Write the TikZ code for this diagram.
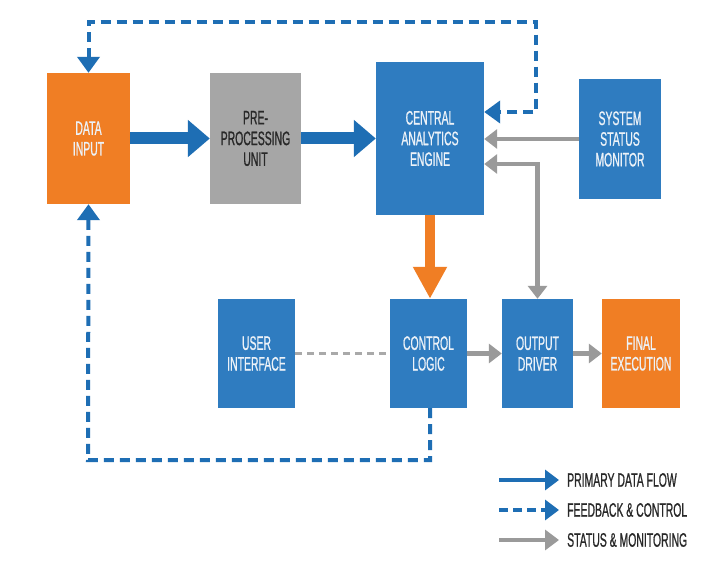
\documentclass[tikz,border=0pt]{standalone}
\usepackage{fontspec}
\setmainfont{Liberation Sans}[FakeStretch=0.535, FakeBold=0.8]
\usetikzlibrary{arrows.meta}
\definecolor{boxblue}{RGB}{47,124,192}
\definecolor{boxorange}{RGB}{240,126,36}
\definecolor{boxgray}{RGB}{166,166,166}
\definecolor{arrblue}{RGB}{30,110,180}
\definecolor{arrgray}{RGB}{154,154,154}
\definecolor{txtlight}{RGB}{236,242,248}
\definecolor{txtdark}{RGB}{40,40,40}
\tikzset{
  box/.style={rectangle, inner sep=0pt, align=center,
    font=\fontsize{19.5}{20.7}\selectfont},
  bluebox/.style={box, fill=boxblue, text=txtlight},
  orangebox/.style={box, fill=boxorange, text=txtlight},
  graybox/.style={box, fill=boxgray, text=txtdark},
  primary/.style={draw=arrblue, line width=12pt,
    -{Triangle[length=22pt,width=36pt]}, arrblue},
  fb/.style={draw=arrblue, line width=4pt, dash pattern=on 10pt off 6pt,
    arrows={Triangle[length=16pt,width=22pt]-Triangle[length=16pt,width=22pt]}, arrblue},
  fbone/.style={fb, arrows={-Triangle[length=16pt,width=22pt]}},
  stat/.style={draw=arrgray, line width=4.5pt,
    -{Triangle[length=13pt,width=19pt]}, arrgray},
  statboth/.style={stat, {Triangle[length=13pt,width=19pt]}-{Triangle[length=13pt,width=19pt]}},
  ctrl/.style={draw=boxorange, line width=10pt,
    -{Triangle[length=32pt,width=32pt]}, boxorange},
  uidash/.style={draw=arrgray!85, line width=2.5pt, dash pattern=on 7pt off 5pt},
  legtext/.style={anchor=west, inner sep=0pt, text=txtdark,
    font=\fontsize{19.5}{20}\selectfont},
}
\begin{document}
\begin{tikzpicture}[x=1pt,y=-1pt]
\useasboundingbox[fill=white] (0,0) rectangle (709,569);

% boxes
\node[orangebox, minimum width=83pt, minimum height=131pt] (DI) at (88.5,138.5) {DATA\\INPUT};
\node[graybox, minimum width=91pt, minimum height=131pt] (PP) at (255.5,138.5) {PRE-\\PROCESSING\\UNIT};
\node[bluebox, minimum width=108pt, minimum height=153pt] (CAE) at (430,138.5) {CENTRAL\\ANALYTICS\\ENGINE};
\node[bluebox, minimum width=82pt, minimum height=120pt] (SSM) at (620,139) {SYSTEM\\STATUS\\MONITOR};
\node[bluebox, minimum width=77pt, minimum height=109pt] (UI) at (256.5,353.5) {USER\\INTERFACE};
\node[bluebox, minimum width=77pt, minimum height=109pt] (CL) at (428.5,353.5) {CONTROL\\LOGIC};
\node[bluebox, minimum width=71pt, minimum height=109pt] (OD) at (537.5,353.5) {OUTPUT\\DRIVER};
\node[orangebox, minimum width=78pt, minimum height=109pt] (FE) at (641,353.5) {FINAL\\EXECUTION};

% helper coordinates
\coordinate (fbTR) at (536,22);
\coordinate (fbBL) at (88,460);

% primary data flow
\draw[primary] (DI.east) -- (PP.west);
\draw[primary] (PP.east) -- (CAE.west |- PP.east);

% feedback loops
\draw[fb] (DI.north) |- (fbTR) |- (CAE.east |- 0,112);
\draw[fbone] (CAE.south |- CL.south) |- (fbBL) -- (DI.south);

% status & monitoring
\draw[stat] (SSM.west) -- (CAE.east |- SSM.west);
\draw[statboth] (OD.north) |- (CAE.east |- 0,164);
\draw[stat] (CL.east) -- (OD.west);
\draw[stat] (OD.east) -- (FE.west);

% control
\draw[ctrl] (CAE.south) -- (CAE.south |- CL.north);
\draw[uidash] (UI.east) -- (CL.west);

% legend
\node[legtext] (L1) at (567,480) {PRIMARY DATA FLOW};
\node[legtext] (L2) at (567,510) {FEEDBACK \& CONTROL};
\node[legtext] (L3) at (567,540) {STATUS \& MONITORING};
\coordinate (L1s) at (499,480);
\coordinate (L2s) at (499,510);
\coordinate (L3s) at (499,540);
\draw[draw=arrblue, line width=4.5pt, -{Triangle[length=14pt,width=20pt]}, arrblue]
  (L1s) -- ([xshift=-8pt]L1.west);
\draw[draw=arrblue, line width=4.5pt, dash pattern=on 9pt off 5pt,
  -{Triangle[length=14pt,width=20pt]}, arrblue]
  (L2s) -- ([xshift=-8pt]L2.west);
\draw[draw=arrgray, line width=4.5pt, -{Triangle[length=14pt,width=20pt]}, arrgray]
  (L3s) -- ([xshift=-8pt]L3.west);
\end{tikzpicture}
\end{document}
